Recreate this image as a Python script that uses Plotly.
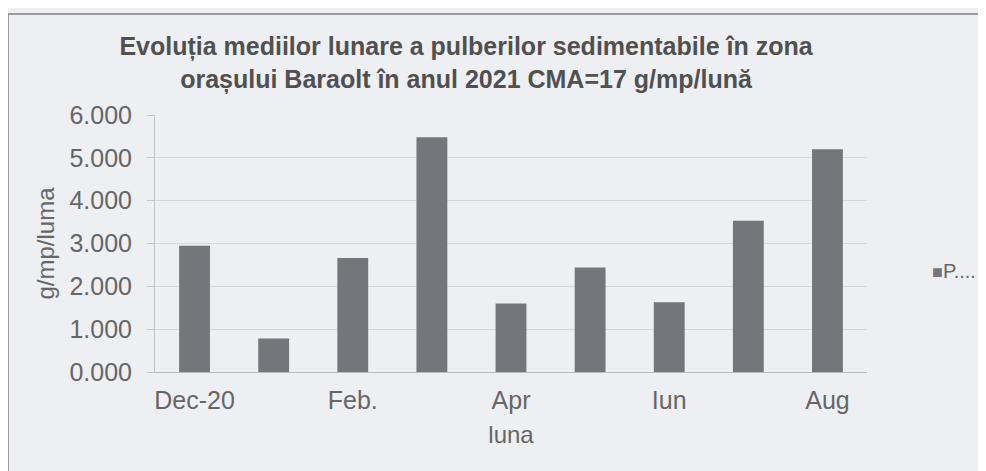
import plotly.graph_objects as go

months = ["Dec-20", "Ian", "Feb.", "Mar", "Apr", "Mai", "Iun", "Iul", "Aug"]
values = [2.950, 0.780, 2.660, 5.480, 1.600, 2.440, 1.630, 3.530, 5.200]
shown_ticks = ["Dec-20", "Feb.", "Apr", "Iun", "Aug"]
y_ticks = [0, 1, 2, 3, 4, 5, 6]
y_tick_text = ["0.000", "1.000", "2.000", "3.000", "4.000", "5.000", "6.000"]
series_name = "P...."

OFF = 8  # page body margin
W, H = 986 - OFF, 471 - OFF
# plot area in screen pixels (reference)
L_s, R_s, T_s, B_s = 155, 867, 114.5, 372.5
ml, mr, mt, mb = L_s - OFF, W - (R_s - OFF), T_s - OFF, H - (B_s - OFF)
pw, ph = R_s - L_s, B_s - T_s

def px_x(x):
    return (x - L_s) / pw

def px_y(y):
    return (B_s - y) / ph

bg = "#eeeff3"
bar_color = "#75767c"
font = "Liberation Sans, Arial, sans-serif"

fig = go.Figure()
fig.add_trace(go.Bar(x=months, y=values, name=series_name,
                     marker=dict(color=bar_color, line=dict(width=0)),
                     showlegend=False))

fig.update_layout(
    width=W, height=H,
    margin=dict(l=ml, r=mr, t=mt, b=mb, autoexpand=False),
    paper_bgcolor=bg, plot_bgcolor=bg,
    bargap=0.61,
    font=dict(family=font, color="#666"),
    title=dict(
        text="<b>Evoluția mediilor lunare a pulberilor sedimentabile în zona<br>orașului Baraolt în anul 2021 CMA=17 g/mp/lună</b>",
        x=(466 - OFF) / W, xanchor="center", y=1 - (55 - OFF) / H, yanchor="middle",
        font=dict(size=25, color="#505050", family=font),
    ),
    xaxis=dict(
        type="category", tickmode="array", tickvals=shown_ticks, ticktext=shown_ticks,
        showline=True, linecolor="#b9babe", linewidth=1, ticks="",
        tickfont=dict(size=25, color="#666"), ticklabelstandoff=6,
        title=dict(text="luna", font=dict(size=24, color="#666"), standoff=13),
        showgrid=False,
    ),
    yaxis=dict(
        range=[0, 6], tickmode="array", tickvals=y_ticks, ticktext=y_tick_text,
        showline=True, linecolor="#c4c5c9", linewidth=1,
        ticks="outside", ticklen=7, tickcolor="#c4c5c9",
        gridcolor="#d6d7db", gridwidth=1,
        tickfont=dict(size=25, color="#666"), ticklabelstandoff=10,
        title=dict(text="g/mp/luma", font=dict(size=24, color="#666"), standoff=8),
        zeroline=False,
    ),
)

# legend entry (symbol + series name), placed like the original
fig.add_annotation(
    xref="paper", yref="paper", x=px_x(930), y=px_y(271),
    xanchor="left", yanchor="middle", showarrow=False,
    text=f"<span style='color:{bar_color};font-size:18px'>■</span>{series_name}",
    font=dict(size=20, color="#666", family=font),
)

fig.add_shape(type="rect", xref="paper", yref="paper",
              x0=px_x(8), x1=px_x(1100), y0=px_y(600), y1=px_y(13),
              line=dict(color="#808085", width=1.5), fillcolor="rgba(0,0,0,0)",
              layer="below")

fig.write_html("out.html")
